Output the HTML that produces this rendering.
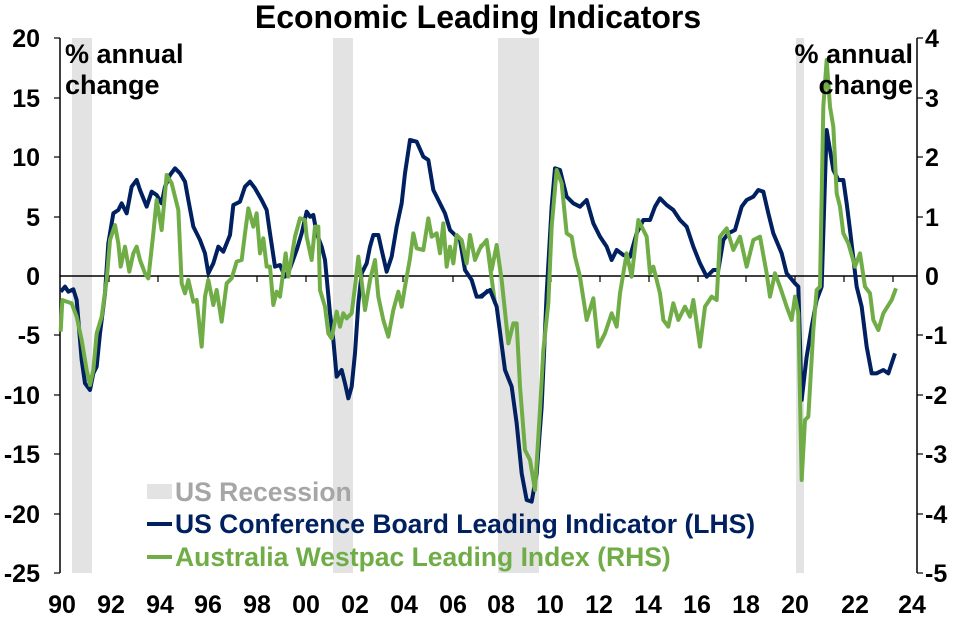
<!DOCTYPE html>
<html><head><meta charset="utf-8"><style>
body{margin:0;background:#fff}
svg{display:block;font-family:"Liberation Sans",Arial,sans-serif;font-weight:bold}
</style></head><body>
<svg width="964" height="620" viewBox="0 0 964 620">
<rect width="964" height="620" fill="#fff"/>
<g fill="#e3e3e3">
<rect x="72" y="38" width="20" height="535"/>
<rect x="333" y="38" width="20" height="535"/>
<rect x="498" y="38" width="41" height="535"/>
<rect x="796" y="38" width="8" height="535"/>
</g>
<g stroke="#000" stroke-width="1.5">
<line x1="60" y1="38" x2="60" y2="573"/>
<line x1="917" y1="38" x2="917" y2="573"/>
<line x1="60" y1="276" x2="917" y2="276"/>
</g>
<g stroke="#000" stroke-width="1.2">
<line x1="54" y1="38" x2="60" y2="38"/><line x1="54" y1="157" x2="60" y2="157"/><line x1="54" y1="217" x2="60" y2="217"/><line x1="54" y1="335" x2="60" y2="335"/><line x1="54" y1="395" x2="60" y2="395"/><line x1="54" y1="454" x2="60" y2="454"/><line x1="54" y1="514" x2="60" y2="514"/><line x1="54" y1="573" x2="60" y2="573"/><line x1="54" y1="98" x2="60" y2="98"/>
<line x1="917" y1="38" x2="923" y2="38"/><line x1="917" y1="98" x2="923" y2="98"/><line x1="917" y1="157" x2="923" y2="157"/><line x1="917" y1="217" x2="923" y2="217"/><line x1="917" y1="335" x2="923" y2="335"/><line x1="917" y1="395" x2="923" y2="395"/><line x1="917" y1="454" x2="923" y2="454"/><line x1="917" y1="514" x2="923" y2="514"/><line x1="917" y1="573" x2="923" y2="573"/>
<line x1="109" y1="276" x2="109" y2="282"/><line x1="158" y1="276" x2="158" y2="282"/><line x1="208" y1="276" x2="208" y2="282"/><line x1="257" y1="276" x2="257" y2="282"/><line x1="306" y1="276" x2="306" y2="282"/><line x1="355" y1="276" x2="355" y2="282"/><line x1="403" y1="276" x2="403" y2="282"/><line x1="453" y1="276" x2="453" y2="282"/><line x1="502" y1="276" x2="502" y2="282"/><line x1="551" y1="276" x2="551" y2="282"/><line x1="600" y1="276" x2="600" y2="282"/><line x1="649" y1="276" x2="649" y2="282"/><line x1="698" y1="276" x2="698" y2="282"/><line x1="746" y1="276" x2="746" y2="282"/><line x1="795" y1="276" x2="795" y2="282"/><line x1="844" y1="276" x2="844" y2="282"/><line x1="893" y1="276" x2="893" y2="282"/>
</g>
<g fill="none" stroke-width="12" stroke-linejoin="round">
<g transform="translate(40,100) scale(0.33333)">
<polyline stroke="#002060" points="62,575 75,560 85,575 100,568 110,600 125,780 135,850 150,870 160,820 170,800 180,700 195,580 205,430 220,340 235,330 245,310 260,340 275,260 290,240 300,270 320,320 335,275 350,285 365,310 375,260 390,225 405,205 420,220 435,245 445,300 460,380 480,420 495,460 505,520 520,490 535,440 550,455 570,405 580,315 600,305 615,260 630,245 645,265 665,300 680,330 690,400 705,500 720,495 735,530 750,505 770,450 785,400 800,335 810,350 820,345 830,400 845,440 855,480 870,640 880,720 890,830 905,810 915,850 925,895 935,860 945,760 955,610 965,520 980,490 990,440 1000,405 1015,405 1025,450 1040,515 1055,470 1070,380 1085,310 1095,220 1110,120 1130,125 1150,170 1165,180 1180,270 1195,300 1215,340 1230,390 1245,405 1260,420 1275,510 1295,540 1310,590 1325,590 1345,570"/>
<polyline stroke="#70AD47" points="62,695 67,600 80,605 95,610 110,650 125,720 140,810 150,855 160,810 170,700 185,650 200,540 210,420 225,375 235,430 242,500 255,440 268,515 280,460 290,440 300,480 315,520 325,535 340,400 350,300 365,390 380,225 395,250 415,330 425,550 435,580 445,540 460,605 470,600 485,740 495,590 505,540 520,615 530,570 545,665 560,550 575,535 590,485 605,480 615,400 625,325 640,380 650,340 660,460 670,415 680,500 690,500 700,615 710,575 720,590 737,460 745,530 765,410 780,355 795,360 800,410 815,480 825,380 835,380 840,570 855,620 865,700 875,715 890,635 900,680 910,640 920,655 935,640 945,560 955,470 965,545 975,630 990,540 1005,480 1015,590 1030,660 1045,710 1060,630 1075,575 1085,620 1095,560 1110,475 1120,400 1130,445 1150,450 1165,355 1175,410 1190,400 1200,460 1210,370 1220,500 1230,440 1240,490 1250,405 1265,420 1280,490 1290,405 1305,480 1320,445 1340,420 1350,500 1365,610"/>
</g>
<g transform="translate(480,40) scale(0.33333)">
<polyline stroke="#002060" points="0,770 30,750 50,800 75,990 95,1040 110,1150 125,1300 140,1380 155,1385 170,1300 185,1100 200,760 215,500 225,385 240,390 260,470 280,490 300,500 320,480 340,550 360,590 380,620 395,660 410,630 430,645 450,650 470,580 490,540 510,540 525,500 540,475 560,495 580,510 600,540 620,560 640,620 660,670 680,710 700,690 715,690 730,600 745,580 765,570 785,500 800,480 820,470 835,450 850,455 865,520 880,580 905,640 920,700 945,730 955,740 965,1080 980,950 995,860 1010,780 1025,740 1035,420 1040,270 1060,390 1075,420 1090,420 1100,490 1110,570 1130,740 1145,800 1160,920 1175,1000 1190,1000 1210,990 1225,1000 1245,940"/>
<polyline stroke="#70AD47" points="0,620 20,605 35,690 50,615 65,720 85,910 100,850 110,850 120,1040 135,1230 150,1260 165,1350 180,1110 190,930 205,790 215,560 230,390 245,430 260,580 275,590 285,650 300,710 320,840 340,775 355,920 375,880 395,820 410,860 420,760 440,640 455,710 475,540 500,590 510,700 520,680 540,760 550,840 565,860 580,790 595,840 615,800 630,830 640,780 660,920 675,800 695,770 710,780 720,590 740,565 760,630 780,590 800,680 820,600 840,590 860,700 870,770 885,700 900,740 920,800 935,840 945,770 955,820 965,1320 975,1140 985,1130 1000,870 1010,750 1020,740 1030,200 1040,60 1050,200 1060,260 1070,460 1080,500 1090,580 1105,610 1125,680 1140,640 1155,740 1170,760 1180,840 1195,870 1210,820 1235,780 1248,745"/>
</g>
</g>
<text x="478" y="28" font-size="32" text-anchor="middle">Economic Leading Indicators</text>
<g font-size="25" text-anchor="end">
<text x="40" y="47">20</text><text x="40" y="107">15</text><text x="40" y="166">10</text><text x="40" y="226">5</text><text x="40" y="285">0</text><text x="40" y="344">-5</text><text x="40" y="404">-10</text><text x="40" y="463">-15</text><text x="40" y="523">-20</text><text x="40" y="582">-25</text>
</g>
<g font-size="25" text-anchor="start">
<text x="925" y="47">4</text><text x="925" y="107">3</text><text x="925" y="166">2</text><text x="925" y="226">1</text><text x="925" y="285">0</text><text x="925" y="344">-1</text><text x="925" y="404">-2</text><text x="925" y="463">-3</text><text x="925" y="523">-4</text><text x="925" y="582">-5</text>
</g>
<g font-size="25" text-anchor="middle">
<text x="62" y="613">90</text><text x="111" y="613">92</text><text x="160" y="613">94</text><text x="208" y="613">96</text><text x="257" y="613">98</text><text x="306" y="613">00</text><text x="355" y="613">02</text><text x="404" y="613">04</text><text x="453" y="613">06</text><text x="501" y="613">08</text><text x="550" y="613">10</text><text x="599" y="613">12</text><text x="648" y="613">14</text><text x="697" y="613">16</text><text x="746" y="613">18</text><text x="795" y="613">20</text><text x="855" y="613">22</text><text x="912" y="613">24</text>
</g>
<g font-size="27">
<text x="65" y="63">% annual</text><text x="65" y="94">change</text>
<text x="913" y="63" text-anchor="end">% annual</text><text x="913" y="94" text-anchor="end">change</text>
</g>
<rect x="147" y="484" width="25" height="15" fill="#e3e3e3"/>
<line x1="147" y1="524" x2="172" y2="524" stroke="#002060" stroke-width="4"/>
<line x1="147" y1="557" x2="172" y2="557" stroke="#70AD47" stroke-width="4"/>
<g font-size="26.5">
<text x="175" y="501" fill="#a6a6a6">US Recession</text>
<text x="175" y="533" fill="#002060">US Conference Board Leading Indicator (LHS)</text>
<text x="175" y="566" fill="#70AD47">Australia Westpac Leading Index (RHS)</text>
</g>
</svg>
</body></html>
